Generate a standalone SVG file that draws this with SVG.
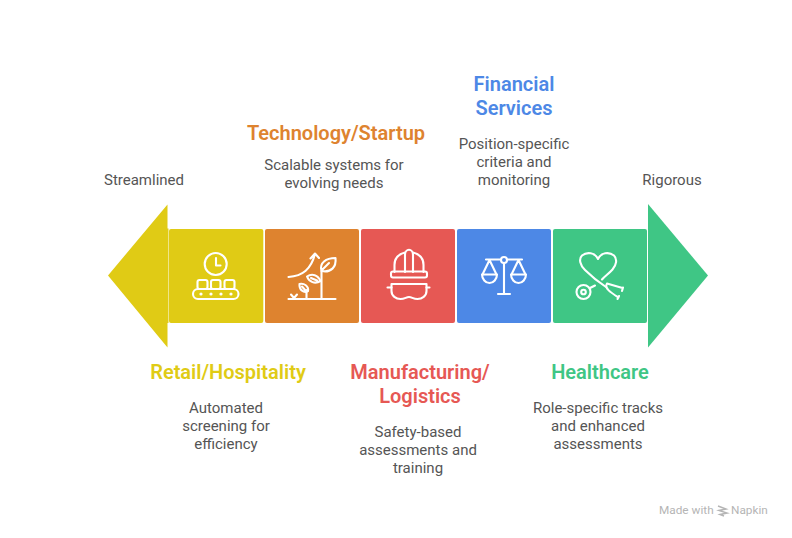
<svg xmlns="http://www.w3.org/2000/svg" width="792" height="538" viewBox="0 0 792 538">
<style>
.t{font-family:Roboto,"Liberation Sans",sans-serif;font-size:20px;font-weight:600;text-anchor:middle}
.b{font-family:Roboto,"Liberation Sans",sans-serif;font-size:15px;fill:#555;text-anchor:middle}
.i{fill:none;stroke:#fff;stroke-width:2.100;stroke-linecap:round;stroke-linejoin:round}
</style>
<rect width="792" height="538" fill="#fff"/>
<g id="arrow-left"><path d="M167.500 204.500V228.500H168.500V323H167.500V347.500L108 275.500Z" fill="#e0cb15"/><text class="b" x="144" y="185">Streamlined</text></g>
<g id="arrow-right"><path d="M648 204V347.500L708 275.500Z" fill="#3fc685"/><text class="b" x="672" y="185">Rigorous</text></g>
<g id="retail">
<rect x="169" y="229" width="94.300" height="94" rx="2" fill="#e0cb15"/>
<g class="i"><circle cx="215.700" cy="264" r="11"/><path d="M216 258V265.500H220.500"/>
<rect x="197.500" y="280" width="10" height="9" rx="2"/><rect x="211" y="280" width="9.500" height="9" rx="2"/><rect x="224.500" y="280" width="10" height="9" rx="2"/>
<rect x="193" y="289" width="45.500" height="10" rx="5"/></g>
<g fill="#fff"><circle cx="201" cy="294" r="1.600"/><circle cx="211" cy="294" r="1.600"/><circle cx="221" cy="294" r="1.600"/><circle cx="231" cy="294" r="1.600"/></g>
<text class="t" x="228" y="379" fill="#e0cb15">Retail/Hospitality</text>
<text class="b" x="226" y="413">Automated</text><text class="b" x="226" y="431">screening for</text><text class="b" x="226" y="449">efficiency</text>
</g>
<g id="technology">
<rect x="265" y="229" width="94" height="94" rx="2" fill="#de832f"/>
<g class="i"><path d="M288.500 277C303 276 311 269 315 254M310.500 258.500L315 253.500L319 258"/>
<path d="M288.500 299H335.500M321.500 299V271M306.500 299V290"/>
<path d="M321.500 271C319 263 326 258 335.500 258C336.500 267 331 273 321.500 271ZM322 270L329 263"/>
<path d="M307 276.500C312 273 318 275 320.500 281C315 284.500 309 282 307 276.500ZM311 278L317 280.500"/>
<path d="M299.500 284C304 283 309 286 308 291C304 293.500 299 290 299.500 284ZM302 286.500L306 291"/>
<path d="M291 294.500L294 298M297 294.500L294 298V299"/></g>
<text class="t" x="336" y="139.500" fill="#de832f">Technology/Startup</text>
<text class="b" x="334" y="170">Scalable systems for</text><text class="b" x="334" y="188">evolving needs</text>
</g>
<g id="manufacturing">
<rect x="361" y="229" width="94" height="94" rx="2" fill="#e65854"/>
<g class="i"><path d="M394.500 272V265C394.500 258 399 254 405 252.500M423.500 272V265C423.500 258 419 254 413 252.500"/>
<path d="M405 272V255C405 248 413 248 413 255V272"/>
<rect x="391" y="271.500" width="36" height="6" rx="2"/>
<path d="M387.500 287.500H391.500M426.500 287.500H429.500"/>
<path d="M391.500 284H426.500V291C426.500 296 422 299 417.500 299C413 299 412 297 409 297C406 297 405 299 400.500 299C396 299 391.500 296 391.500 291Z"/></g>
<text class="t" x="420" y="379" fill="#e65854">Manufacturing/</text><text class="t" x="420" y="403" fill="#e65854">Logistics</text>
<text class="b" x="418" y="437">Safety-based</text><text class="b" x="418" y="455">assessments and</text><text class="b" x="418" y="473">training</text>
</g>
<g id="financial">
<rect x="457" y="229" width="94" height="94" rx="2" fill="#4d88e6"/>
<g class="i"><path d="M486 259.500H500M508 259.500H522M504 263V294M498 294H510"/>
<circle cx="504" cy="260" r="3"/>
<path d="M489.500 260L482.500 274.500M489.500 260L496.500 274.500M518.500 260L511.500 274.500M518.500 260L525.500 274.500"/>
<path d="M482 274.500H497C497 279 493.500 283 489.500 283C485.500 283 482 279 482 274.500ZM511 274.500H526C526 279 522.500 283 518.500 283C514.500 283 511 279 511 274.500Z"/></g>
<text class="t" x="514" y="90.500" fill="#4d88e6">Financial</text><text class="t" x="514" y="114.500" fill="#4d88e6">Services</text>
<text class="b" x="514" y="149">Position-specific</text><text class="b" x="514" y="167">criteria and</text><text class="b" x="514" y="185">monitoring</text>
</g>
<g id="healthcare">
<rect x="553" y="229" width="94" height="94" rx="2" fill="#3fc685"/>
<g class="i"><path d="M606 287C600 283 592 277 585 270C580 265 578.500 259 582 255.500C587 251.500 595 252.500 598 259C601 252.500 609 251.500 614 255.500C617.500 259 616.500 265 612.500 269.500C609 273.500 605 276 602 279.500"/>
<path d="M607 283.500L622.500 288M607 283.500C604 288 610 292 618.500 297.500M623 287.500L622 291M619 296L617.500 299"/>
<circle cx="583.500" cy="292" r="7"/><circle cx="583.500" cy="292" r="2.300"/>
<path d="M590 288L595 285.500"/></g>
<text class="t" x="600" y="379" fill="#3fc685">Healthcare</text>
<text class="b" x="598" y="413">Role-specific tracks</text><text class="b" x="598" y="431">and enhanced</text><text class="b" x="598" y="449">assessments</text>
</g>
<g id="watermark"><text x="659" y="514" font-family="Roboto,'Liberation Sans',sans-serif" font-size="11.800" fill="#b5b5b5">Made with</text>
<path d="M718 506L726 509L719 510.500L727 513L720 514.500L724 516" stroke="#b5b5b5" stroke-width="1.500" fill="none"/>
<text x="731" y="514" font-family="Roboto,'Liberation Sans',sans-serif" font-size="11.800" fill="#b5b5b5">Napkin</text></g>
</svg>
